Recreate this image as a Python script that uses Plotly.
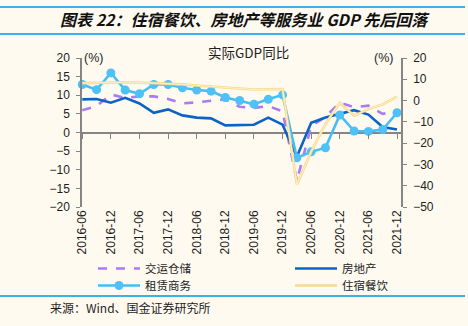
import plotly.graph_objects as go

# Quarterly real GDP growth (%) by service sector
quarters = [
    "2016-06", "2016-09", "2016-12", "2017-03", "2017-06", "2017-09", "2017-12",
    "2018-03", "2018-06", "2018-09", "2018-12", "2019-03", "2019-06", "2019-09",
    "2019-12", "2020-03", "2020-06", "2020-09", "2020-12", "2021-03", "2021-06",
    "2021-09", "2021-12",
]
transport = [6.0, 7.1, 10.2, 9.3, 9.7, 9.7, 9.0, 7.8, 8.1, 8.4, 8.9, 6.9, 6.6, 7.1,
             5.7, -13.0, 1.7, 4.2, 8.0, 6.8, 7.2, 5.0, 5.7]
real_estate = [8.9, 9.0, 8.0, 9.3, 7.8, 5.3, 6.2, 4.6, 4.0, 3.8, 1.9, 2.1, 2.1, 4.0,
               2.1, -6.5, 2.6, 4.0, 5.1, 6.0, 4.8, 1.5, 0.8]
leasing = [12.9, 11.5, 16.0, 11.4, 10.4, 12.9, 12.9, 12.0, 11.4, 11.1, 9.4, 8.6, 7.6, 8.9,
           10.1, -6.8, -5.2, -4.1, 4.7, 0.4, 0.3, 0.8, 5.3]
hospitality = [8.2, 8.4, 8.6, 8.6, 8.5, 8.3, 8.0, 7.6, 7.1, 6.6, 6.1, 5.6, 5.2, 5.3,
               5.4, -39.5, -24.0, -11.0, -1.0, -7.1, -4.0, -1.8, 1.9]

tick_labels = quarters[::2]
left_ticks = [20, 15, 10, 5, 0, -5, -10, -15, -20]
right_ticks = [20, 10, 0, -10, -20, -30, -40, -50]

W, H = 468, 326
ML, MR, MT, MB = 82, 67, 58, 119
PW, PH = W - ML - MR, H - MT - MB


def px(x):
    return (x - ML) / PW


def py(y):
    return (H - MB - y) / PH


BG = "#FEFAF0"
AXIS = "#858585"
TXT = "#1E1E1E"
RULE = "#3DB0E6"
LATIN = "Liberation Sans, Arial, sans-serif"
CJK = "Noto Sans CJK SC, sans-serif"

fig = go.Figure()

fig.add_trace(go.Scatter(
    x=quarters, y=transport, name="交运仓储", mode="lines",
    line=dict(color="#A97CF0", width=2.6, dash="dash"),
    legend="legend", cliponaxis=False,
))
fig.add_trace(go.Scatter(
    x=quarters, y=real_estate, name="房地产", mode="lines",
    line=dict(color="#0B63C6", width=2.6),
    legend="legend2", cliponaxis=False,
))
# hospitality drawn as a double-edged pale band on the right axis
fig.add_trace(go.Scatter(
    x=quarters, y=hospitality, name="住宿餐饮", mode="lines",
    line=dict(color="#F9D98C", width=2.6), yaxis="y2",
    legend="legend4", cliponaxis=False,
))
fig.add_trace(go.Scatter(
    x=quarters, y=hospitality, mode="lines", showlegend=False,
    line=dict(color="#FFF5DC", width=0.8), yaxis="y2",
    cliponaxis=False, hoverinfo="skip",
))
fig.add_trace(go.Scatter(
    x=quarters, y=leasing, name="租赁商务", mode="lines+markers",
    line=dict(color="#45BDF5", width=2.6),
    marker=dict(color="#4EC1F7", size=9),
    legend="legend3", cliponaxis=False,
))
# carrier for the tick marks sitting on the zero line
fig.add_trace(go.Scatter(
    x=quarters, y=[None] * len(quarters), xaxis="x2", showlegend=False,
    mode="lines", hoverinfo="skip",
))

xr = [-0.02, (len(quarters) - 1) * PW / 315.0]

legend_style = dict(
    orientation="h", xanchor="left", yanchor="middle", itemwidth=42,
    bgcolor="rgba(0,0,0,0)", font=dict(family=CJK, size=11.5, color=TXT),
    itemclick=False, itemdoubleclick=False,
)

fig.update_layout(
    width=W, height=H,
    margin=dict(l=ML, r=MR, t=MT, b=MB, pad=0),
    paper_bgcolor=BG, plot_bgcolor=BG,
    showlegend=True,
    xaxis=dict(
        type="category", categoryorder="array", categoryarray=quarters,
        range=xr, showgrid=False, zeroline=False, showline=False,
        ticks="", tickmode="array", tickvals=tick_labels, ticktext=tick_labels,
        tickangle=-90, tickfont=dict(family=LATIN, size=12, color=TXT),
    ),
    xaxis2=dict(
        type="category", categoryorder="array", categoryarray=quarters,
        range=xr, overlaying="x", anchor="free", position=0.5,
        showgrid=False, zeroline=False, showline=False,
        ticks="outside", ticklen=5, tickwidth=1.3, tickcolor=AXIS,
        tickmode="array", tickvals=tick_labels, showticklabels=False,
    ),
    yaxis=dict(
        range=[-20, 20], tickvals=left_ticks, showgrid=False,
        zeroline=True, zerolinecolor=AXIS, zerolinewidth=1.6,
        showline=True, linecolor=AXIS, linewidth=1.5,
        ticks="outside", ticklen=4, tickcolor=AXIS, tickwidth=1.3,
        ticklabelstandoff=4,
        tickfont=dict(family=LATIN, size=12, color=TXT),
    ),
    yaxis2=dict(
        range=[-50, 20], tickvals=right_ticks, overlaying="y", side="right",
        showgrid=False, zeroline=False,
        showline=True, linecolor=AXIS, linewidth=1.5,
        ticks="outside", ticklen=4, tickcolor=AXIS, tickwidth=1.3,
        ticklabelstandoff=4,
        tickfont=dict(family=LATIN, size=12, color=TXT),
    ),
    legend=dict(x=px(93), y=py(268.5), **legend_style),
    legend2=dict(x=px(290), y=py(268.5), **legend_style),
    legend3=dict(x=px(93), y=py(285.5), **legend_style),
    legend4=dict(x=px(290), y=py(285.5), **legend_style),
)

annotations = [
    dict(text="<b><i>图表 22：住宿餐饮、房地产等服务业 GDP 先后回落</i></b>",
         x=px(245), y=py(19), font=dict(family=CJK, size=16, color="#111111")),
    dict(text="实际GDP同比", x=px(248), y=py(52),
         font=dict(family=CJK, size=13.5, color=TXT)),
    dict(text="(%)", x=px(93), y=py(58), font=dict(family=LATIN, size=12.5, color=TXT)),
    dict(text="(%)", x=px(383), y=py(58), font=dict(family=LATIN, size=12.5, color=TXT)),
    dict(text="来源：Wind、国金证券研究所", x=px(48), y=py(307), xanchor="left",
         font=dict(family=CJK, size=12, color=TXT)),
]
for a in annotations:
    a.setdefault("xanchor", "center")
    fig.add_annotation(xref="paper", yref="paper", yanchor="middle",
                       showarrow=False, **a)

for yy in (7, 34, 296):
    fig.add_shape(type="line", xref="paper", yref="paper",
                  x0=px(0), x1=px(465), y0=py(yy), y1=py(yy),
                  line=dict(color=RULE, width=2))

fig.write_html("out.html")
